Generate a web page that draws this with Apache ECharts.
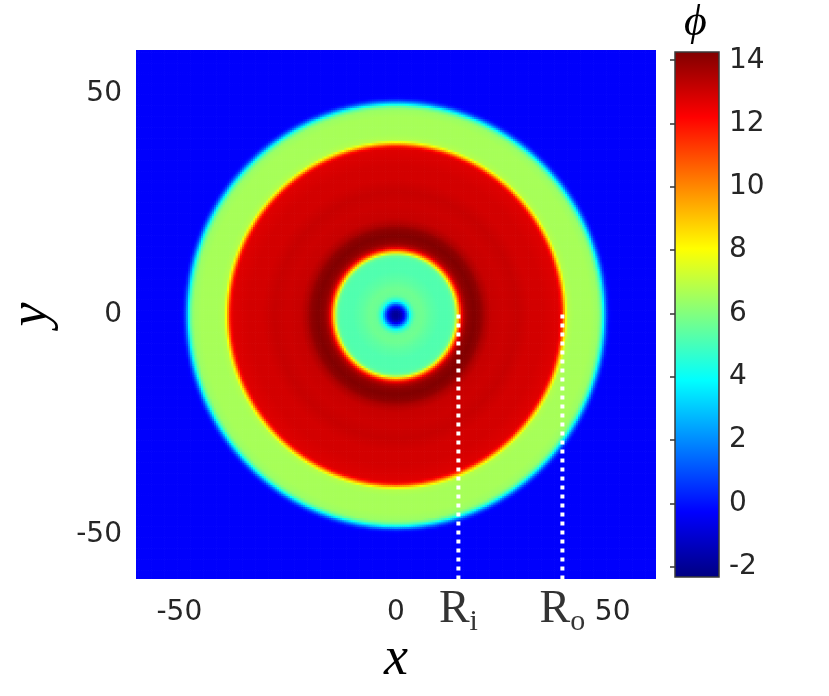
<!DOCTYPE html>
<html>
<head>
<meta charset="utf-8">
<script src="https://cdn.jsdelivr.net/npm/echarts@6/dist/echarts.min.js"></script>
<style>
html,body{margin:0;padding:0;background:#fff;}
#chart{width:829px;height:696px;}
</style>
</head>
<body>
<div id="chart"></div>
<script>
// Radial profile of phi (radius in x/y units -> phi)
var radiusSamples = [0, 1, 1.5, 2, 2.5, 3, 3.5, 4.5, 6, 8, 10, 12, 13, 13.6, 14.1, 14.6, 15.1, 15.6, 16.5, 18, 19.5, 20.5, 22, 25, 28, 31, 34, 36, 37.6, 38.2, 38.7, 39.2, 39.7, 41, 45, 46.6, 47.3, 47.8, 48.3, 48.8, 49.3, 50, 90];
var phiSamples    = [-2.1, -1.7, -1.0, 0.0, 1.6, 3.3, 4.6, 5.6, 5.7, 5.4, 5.2, 5.2, 5.3, 5.9, 8.0, 10.2, 12.1, 13.3, 14.0, 14.25, 14.0, 13.5, 13.1, 13.0, 13.1, 12.9, 12.9, 12.8, 12.7, 12.0, 10.0, 8.0, 6.8, 6.6, 6.6, 6.4, 5.5, 4.0, 2.0, 0.5, -0.2, -0.3, -0.3];
var gridStep = 0.5;           // cell size of the sampled field
var xTicks = [-50, 0, 50];
var yTicks = [-50, 0, 50];
var colorbarTicks = [-2, 0, 2, 4, 6, 8, 10, 12, 14];
var phiMin = -2.33, phiMax = 14.26;
var markerRadii = [14.4, 38.4];
var markerNames = ['i', 'o'];
var jetColors = ['#000080', '#0000ff', '#0080ff', '#00ffff', '#80ff80', '#ffff00', '#ff8000', '#ff0000', '#800000'];

function profileAt(r) {
  for (var k = 1; k < radiusSamples.length; k++) {
    if (r <= radiusSamples[k]) {
      var r0 = radiusSamples[k - 1], r1 = radiusSamples[k];
      var t = (r - r0) / (r1 - r0);
      return phiSamples[k - 1] + t * (phiSamples[k] - phiSamples[k - 1]);
    }
  }
  return phiSamples[phiSamples.length - 1];
}

var field = [];
for (var xi = -60 + gridStep / 2; xi < 60; xi += gridStep) {
  for (var yi = -60 + gridStep / 2; yi < 60; yi += gridStep) {
    field.push([xi, yi, profileAt(Math.sqrt(xi * xi + yi * yi))]);
  }
}

var markerLines = markerRadii.map(function (r) { return [[r, 0], [r, -60]]; });

var chart = echarts.init(document.getElementById('chart'), null, {renderer: 'canvas'});
var labelColor = '#262626';
var tickFont = 'DejaVu Sans';

var series = [{
  type: 'custom',
  xAxisIndex: 0, yAxisIndex: 0,
  data: field,
  encode: {x: 0, y: 1},
  progressive: 0,
  clip: true,
  silent: true,
  renderItem: function (params, api) {
    var x = api.value(0), y = api.value(1), h = gridStep / 2;
    var p0 = api.coord([x - h, y + h]);
    var p1 = api.coord([x + h, y - h]);
    return {
      type: 'rect',
      shape: {x: p0[0], y: p0[1], width: p1[0] - p0[0] + 0.7, height: p1[1] - p0[1] + 0.7},
      style: {fill: api.visual('color')}
    };
  }
}];

markerLines.forEach(function (seg, i) {
  series.push({
    type: 'line',
    xAxisIndex: 0, yAxisIndex: 0,
    data: seg,
    symbol: 'none',
    silent: true,
    z: 5,
    lineStyle: {color: '#ffffff', width: 4, type: [4, 5], cap: 'butt'}
  });
  series.push({
    type: 'scatter',
    xAxisIndex: 0, yAxisIndex: 0,
    data: [seg[1]],
    symbolSize: 0,
    silent: true,
    z: 6,
    label: {
      show: true,
      position: 'bottom',
      distance: 8,
      formatter: 'R{s|' + markerNames[i] + '}',
      fontFamily: 'Liberation Serif',
      fontSize: 46,
      color: '#000',
      lineHeight: 46,
      rich: {
        s: {fontFamily: 'Liberation Serif', fontSize: 30, lineHeight: 30, padding: [24, 0, 0, 0], color: '#000'}
      }
    }
  });
});

// colorbar
series.push({
  type: 'custom',
  xAxisIndex: 1, yAxisIndex: 1,
  data: [[0, phiMin, phiMax]],
  silent: true,
  renderItem: function (params, api) {
    var p0 = api.coord([0, api.value(2)]);
    var p1 = api.coord([1, api.value(1)]);
    var stops = jetColors.map(function (c, k) {
      return {offset: 1 - k / (jetColors.length - 1), color: c};
    }).reverse();
    return {
      type: 'rect',
      shape: {x: p0[0], y: p0[1], width: p1[0] - p0[0], height: p1[1] - p0[1]},
      style: {
        fill: new echarts.graphic.LinearGradient(0, 0, 0, 1, stops),
        stroke: '#3a3a3a', lineWidth: 1.5
      }
    };
  }
});

var option = {
  animation: false,
  backgroundColor: '#ffffff',
  title: {
    text: 'ϕ',
    left: 679, top: -4,
    textStyle: {fontFamily: 'Liberation Serif', fontStyle: 'italic', fontWeight: 'normal', fontSize: 44, color: '#000'}
  },
  grid: [
    {left: 136, top: 50, width: 520, height: 529, containLabel: false, outerBoundsMode: 'none'},
    {left: 675, top: 52, width: 44, height: 525, containLabel: false, outerBoundsMode: 'none'}
  ],
  xAxis: [{
    type: 'value', gridIndex: 0, min: -60, max: 60,
    axisLine: {show: false}, axisTick: {show: false}, splitLine: {show: false},
    axisLabel: {customValues: xTicks, fontFamily: tickFont, fontSize: 28, color: labelColor, margin: 20},
    name: 'x', nameLocation: 'middle', nameGap: 54,
    nameTextStyle: {fontFamily: 'Liberation Serif', fontStyle: 'italic', fontSize: 54, color: '#000'}
  }, {
    type: 'value', gridIndex: 1, min: 0, max: 1,
    show: false
  }],
  yAxis: [{
    type: 'value', gridIndex: 0, min: -60, max: 60,
    axisLine: {show: false}, axisTick: {show: false}, splitLine: {show: false},
    axisLabel: {customValues: yTicks, fontFamily: tickFont, fontSize: 28, color: labelColor, margin: 14},
    name: 'y', nameLocation: 'middle', nameGap: 77, nameRotate: 90,
    nameTextStyle: {fontFamily: 'Liberation Serif', fontStyle: 'italic', fontSize: 54, color: '#000'}
  }, {
    type: 'value', gridIndex: 1, min: phiMin, max: phiMax, position: 'right',
    axisLine: {show: false},
    splitLine: {show: false},
    axisTick: {show: true, inside: true, length: 5, customValues: colorbarTicks, lineStyle: {color: '#333', width: 1.5}},
    axisLabel: {customValues: colorbarTicks, fontFamily: tickFont, fontSize: 28, color: labelColor, margin: 10}
  }],
  visualMap: {
    type: 'continuous', show: false, seriesIndex: 0, dimension: 2,
    min: phiMin, max: phiMax,
    inRange: {color: jetColors}
  },
  series: series
};
chart.setOption(option);
</script>
</body>
</html>
